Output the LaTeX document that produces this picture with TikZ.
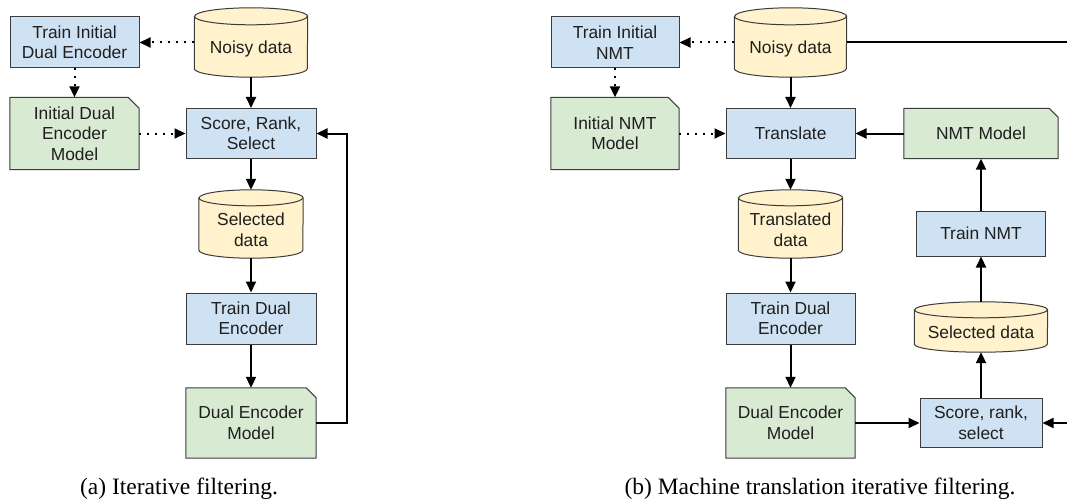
\documentclass[tikz,border=0pt]{standalone}
\usepackage{fontspec}
\setmainfont{Liberation Sans}
\newfontfamily\capfont{Liberation Serif}
\usetikzlibrary{arrows.meta}
\pgfdeclarelayer{background}
\pgfsetlayers{background,main}

\definecolor{boxblue}{HTML}{CFE2F3}
\definecolor{dbyellow}{HTML}{FFF2CC}
\definecolor{docgreen}{HTML}{D9EAD3}
\definecolor{edge}{HTML}{3C3C3C}
\definecolor{ink}{HTML}{1F1F1F}

\tikzset{
  lbl/.style={font=\fontsize{17.4}{20.5}\selectfont, text=ink, align=center, inner sep=0pt},
  procbox/.style={lbl, draw=edge, line width=1pt, fill=boxblue, minimum width=130pt, minimum height=51pt},
  docbox/.style={lbl, minimum width=130pt, minimum height=71pt},
  cylbox/.style={inner sep=0pt, minimum width=104pt, minimum height=68pt},
  docline/.style={draw=edge, line width=1pt, fill=docgreen},
  cylline/.style={draw=edge, line width=1pt, fill=dbyellow},
  flow/.style={line width=2pt, -{Triangle[length=11pt,width=10pt]}},
  hint/.style={flow, dash pattern=on 2pt off 6pt},
  caption/.style={font=\capfont\fontsize{23.5}{28}\selectfont, anchor=base, inner sep=0pt},
}

% document shape with a folded top-right corner, drawn behind node #1
\newcommand\docshape[2]{%
  \begin{pgfonlayer}{background}
    \path[docline] (#1.south west) -- (#1.north west) -- ([xshift=-#2]#1.north east)
      -- ([yshift=-#2]#1.north east) -- (#1.south east) -- cycle;
  \end{pgfonlayer}}

% database cylinder filling the box of node #1; x radius #2, y radius #3
\newcommand\cylshape[3]{%
  \begin{pgfonlayer}{background}
    \path[cylline] ([yshift=-#3]#1.north west) -- ([yshift=#3]#1.south west)
      arc[start angle=180, end angle=360, x radius=#2, y radius=#3]
      -- ([yshift=-#3]#1.north east)
      arc[start angle=0, end angle=180, x radius=#2, y radius=#3] -- cycle;
    \draw[draw=edge, line width=1pt] ([yshift=-#3]#1.north west)
      arc[start angle=180, end angle=360, x radius=#2, y radius=#3];
  \end{pgfonlayer}}

\begin{document}
\begin{tikzpicture}[x=1pt, y=1pt]
\useasboundingbox (0,0) rectangle (1067,499);
\clip (0,0) rectangle (1067,499);

% ---------- (a) iterative filtering ----------
\node[procbox, minimum width=129pt] (tiDE) at (74.5,456.5) {Train Initial\\Dual Encoder};
\node[cylbox, minimum width=113pt, minimum height=69pt] (noisyA) at (251,456.5) {};
\node[lbl] (noisyAtxt) at ([yshift=-7pt]noisyA.center) {Noisy data};
\node[docbox, minimum width=129pt, minimum height=72pt] (initDE) at (74.5,365.5) {Initial Dual\\Encoder\\Model};
\node[procbox, minimum height=50pt] (scoreA) at (251,365.5) {Score, Rank,\\Select};
\node[cylbox] (selA) at (251,275) {};
\node[lbl] (selAtxt) at ([yshift=-6pt]selA.center) {Selected\\data};
\node[procbox] (trainA) at (251,180.5) {Train Dual\\Encoder};
\node[docbox, minimum height=70pt] (deA) at (251,76) {Dual Encoder\\Model};

\cylshape{noisyA}{56.5pt}{8.5pt}
\cylshape{selA}{52pt}{8pt}
\docshape{initDE}{11pt}
\docshape{deA}{10pt}

\draw[hint] (noisyA) -- (tiDE);
\draw[hint] (tiDE) -- (initDE);
\draw[hint] (initDE) -- (scoreA);
\draw[flow] (noisyA) -- (scoreA);
\draw[flow] (scoreA) -- (selA);
\draw[flow] (selA) -- (trainA);
\draw[flow] (trainA) -- (deA);
\draw[flow] (deA.east) -- ++(31,0) |- (scoreA.east);

% ---------- (b) machine translation iterative filtering ----------
\node[procbox, minimum width=128pt] (tiN) at (615,456.5) {Train Initial\\NMT};
\node[cylbox, minimum width=112pt, minimum height=69pt] (noisyB) at (790.5,456.5) {};
\node[lbl] (noisyBtxt) at ([yshift=-7pt]noisyB.center) {Noisy data};
\node[docbox, minimum width=128pt, minimum height=72pt] (initN) at (615,365.5) {Initial NMT\\Model};
\node[procbox, minimum width=129pt, minimum height=50pt] (trans) at (790.5,365.5) {Translate};
\node[docbox, minimum width=154pt, minimum height=50pt] (nmt) at (981,365.5) {NMT Model};
\node[cylbox] (transD) at (790.5,275) {};
\node[lbl] (transDtxt) at ([yshift=-6pt]transD.center) {Translated\\data};
\node[procbox, minimum width=129pt, minimum height=45pt] (trainN) at (981,265.5) {Train NMT};
\node[cylbox, minimum width=133pt, minimum height=50pt] (selB) at (981,172) {};
\node[lbl] (selBtxt) at ([yshift=-5pt]selB.center) {Selected data};
\node[procbox, minimum width=129pt] (trainB) at (790.5,180.5) {Train Dual\\Encoder};
\node[docbox, minimum width=129pt, minimum height=70pt] (deB) at (790.5,76) {Dual Encoder\\Model};
\node[procbox, minimum width=122pt, minimum height=49pt] (scoreB) at (981,76) {Score, rank,\\select};

\cylshape{noisyB}{56pt}{8.5pt}
\cylshape{transD}{52pt}{8pt}
\cylshape{selB}{66.5pt}{8pt}
\docshape{initN}{11pt}
\docshape{nmt}{9pt}
\docshape{deB}{10pt}

\draw[hint] (noisyB) -- (tiN);
\draw[hint] (tiN) -- (initN);
\draw[hint] (initN) -- (trans);
\draw[flow] (noisyB) -- (trans);
\draw[flow] (nmt) -- (trans);
\draw[flow] (trans) -- (transD);
\draw[flow] (transD) -- (trainB);
\draw[flow] (trainB) -- (deB);
\draw[flow] (deB) -- (scoreB);
\draw[flow] (scoreB) -- (selB);
\draw[flow] (selB) -- (trainN);
\draw[flow] (trainN) -- (nmt);
\draw[flow] (noisyB.east) -- ++(250,0) |- (scoreB.east);

% ---------- captions ----------
\node[caption] (capA) at (179,5) {(a) Iterative filtering.};
\node[caption] (capB) at (820,5) {(b) Machine translation iterative filtering.};
\end{tikzpicture}
\end{document}
